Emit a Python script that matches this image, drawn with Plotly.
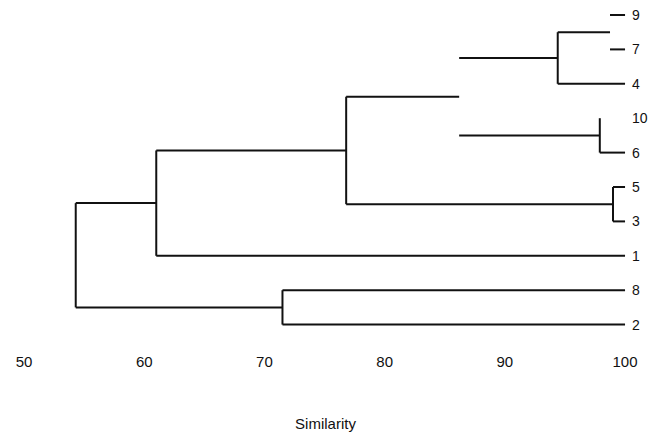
import plotly.graph_objects as go

# Leaves (top to bottom) and merges: (name, similarity, left child, right child)
leaves = ["9", "7", "4", "10", "6", "5", "3", "1", "8", "2"]
merge_names = ["n1", "n2", "n3", "n4", "n5", "n6", "n7", "n8", "n9"]
merge_sim = [98.75, 94.4, 97.9, 99.0, 86.2, 76.8, 61.0, 71.5, 54.3]
merge_left = ["9", "n1", "10", "5", "n2", "n5", "n6", "8", "n7"]
merge_right = ["7", "4", "6", "3", "n3", "n4", "1", "2", "n8"]
# segments missing in the original drawing
hidden_vertical = ["n1", "n5"]
hidden_leaf_branch = ["10"]

xticks = [50, 60, 70, 80, 90, 100]
leaf_sim = 100

pos = {}
sim = {}
for i, lf in enumerate(leaves):
    pos[lf] = i
    sim[lf] = leaf_sim
for nm, s, a, b in zip(merge_names, merge_sim, merge_left, merge_right):
    pos[nm] = (pos[a] + pos[b]) / 2
    sim[nm] = s

xs, ys = [], []
for nm, s, a, b in zip(merge_names, merge_sim, merge_left, merge_right):
    if nm not in hidden_vertical:
        xs += [s, s, None]
        ys += [pos[a], pos[b], None]
    for c in (a, b):
        if c in hidden_leaf_branch:
            continue
        xs += [s, sim[c], None]
        ys += [pos[c], pos[c], None]

fig = go.Figure()
fig.add_trace(go.Scatter(x=xs, y=ys, mode="lines",
                         line=dict(color="#111111", width=2),
                         hoverinfo="skip", showlegend=False))

for lf in leaves:
    fig.add_annotation(x=leaf_sim, y=pos[lf], text=lf, showarrow=False,
                       xanchor="left", xshift=5, yanchor="middle",
                       font=dict(size=14, color="#111111", family="Liberation Sans"))

fig.update_layout(
    width=651, height=441,
    margin=dict(l=0, r=0, t=0, b=96),
    paper_bgcolor="white", plot_bgcolor="white",
    font=dict(family="Liberation Sans", size=14, color="#111111"),
    xaxis=dict(range=[48.0, 102.16], tickvals=xticks,
               ticktext=[str(v) for v in xticks],
               showgrid=False, zeroline=False, showline=False, ticks="",
               ticklabelstandoff=6,
               tickfont=dict(size=15),
               title=dict(text="Similarity", standoff=49, font=dict(size=15))),
    yaxis=dict(range=[9.593, -0.436], visible=False, showgrid=False, zeroline=False),
)

fig.write_html("out.html")
